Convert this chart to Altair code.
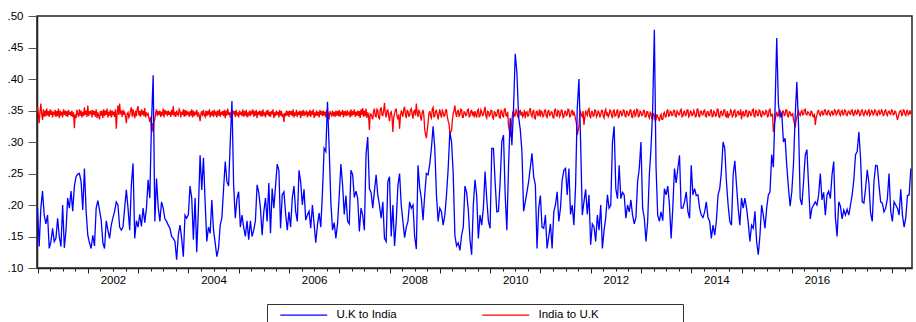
import altair as alt
import numpy as np
import pandas as pd

# ---- data (values in thousandths) ----
START_YEAR = 2001.0
UK_OBS_PER_YEAR = 30      # U.K to India read every 1/30 year
IN_OBS_PER_YEAR = 60      # India to U.K read every 1/60 year

uk_to_india_milli = [
    195,134,195,222,184,170,184,131,142,163,
    142,147,179,150,134,200,132,160,211,195,
    222,190,230,245,249,250,237,192,258,190,
    152,140,131,152,135,195,207,192,176,140,
    131,175,160,147,168,180,190,205,200,165,
    160,165,195,224,195,160,232,266,147,175,
    165,185,166,195,172,195,240,211,330,406,
    174,242,197,174,205,195,178,174,168,163,
    150,147,142,113,152,168,147,118,184,179,
    185,
    230,211,145,211,125,195,279,224,275,205,
    142,165,155,208,160,140,118,131,168,180,
    225,269,237,230,300,365,232,179,210,221,
    165,184,165,150,175,145,175,150,160,175,
    232,220,195,152,189,211,174,235,155,226,
    195,230,265,255,163,216,221,187,160,189,
    165,211,230,190,174,255,237,200,225,176,
    184,190,163,200,170,140,168,187,165,220,
    290,285,364,290,205,160,172,
    147,170,215,265,232,185,215,174,170,255,
    248,212,222,211,158,195,184,160,280,308,
    226,220,195,222,248,216,200,179,205,147,
    142,237,245,150,200,135,174,230,250,200,
    174,148,165,174,205,195,200,150,130,263,
    228,210,176,216,250,248,265,290,325,290,
    216,174,195,189,168,184,216,258,316,300,
    250,152,135,140,128,152,165,230,220,192,
    145,121,200,240,215,
    147,184,168,195,253,210,174,163,290,290,
    237,189,190,237,301,311,216,160,260,338,
    295,353,440,410,340,320,285,190,205,221,
    237,260,282,245,232,131,195,215,165,163,
    184,131,150,170,131,189,200,221,174,195,
    240,255,258,216,258,185,200,168,230,353,
    400,300,184,205,225,185,216,137,170,165,
    142,184,160,200,131,160,180,216,195,200,
    300,325,226,210,263,210,220,
    216,179,200,189,208,184,170,180,237,258,
    300,195,179,142,174,248,290,353,478,260,
    184,174,189,175,226,216,230,200,147,195,
    258,235,258,279,195,195,205,221,190,179,
    263,216,226,215,216,195,184,180,189,205,
    180,174,147,168,152,175,216,226,253,300,
    290,237,200,174,168,248,270,232,195,168,
    211,195,211,195,172,142,168,163,190,142,
    121,152,200,184,163,195,
    216,221,280,260,353,465,360,340,345,300,
    306,262,227,198,221,265,340,395,327,210,
    200,237,279,288,232,178,195,200,205,200,
    216,250,208,220,184,216,222,210,248,269,
    180,150,205,198,178,192,184,193,184,200,
    216,240,280,285,316,275,205,203,226,256,
    235,187,174,237,263,262,232,205,203,189,
    195,210,250,190,174,205,200,195,184,225,
    184,165,180,215,216,258,
]

india_to_uk_milli = [
    356,345,330,348,361,344,335,352,340,350,341,353,342,349,340,352,343,350,339,348,
    344,351,340,349,341,353,338,350,342,348,339,352,343,350,341,349,340,351,343,348,
    341,350,340,347,322,344,338,351,345,340,352,342,350,339,348,341,355,343,350,340,
    358,341,349,344,350,339,351,343,349,340,352,338,347,341,336,349,342,350,338,352,
    341,350,343,353,339,348,342,351,339,350,344,348,340,352,321,346,358,343,361,344,
    350,340,351,343,347,341,330,345,347,339,342,351,355,340,352,344,338,350,341,353,
    357,342,349,340,352,343,350,341,354,339,347,343,345,338,332,340,318,330,315,333,
    336,346,352,341,349,343,350,340,348,342,353,339,351,344,349,341,350,343,348,340,
    351,343,357,341,348,340,350,344,342,352,349,339,348,343,352,340,351,341,350,343,
    348,340,349,342,352,339,350,341,348,343,351,340,347,342,333,345,349,341,351,343,
    340,350,341,349,343,352,339,348,342,350,340,351,344,347,339,350,342,352,340,348,
    343,349,341,351,338,350,342,353,343,347,339,348,341,350,344,349,340,351,342,347,
    339,350,343,348,341,352,340,349,342,351,339,347,343,350,341,348,344,352,340,349,
    342,351,338,348,343,350,341,349,340,352,342,347,339,350,343,351,341,348,340,349,
    344,352,338,347,341,350,343,348,339,351,342,349,340,345,332,346,341,350,342,349,
    340,350,343,349,341,352,339,347,342,351,340,348,343,350,338,349,342,351,341,347,
    344,350,339,348,342,351,340,349,343,352,338,347,341,350,342,348,339,351,343,349,
    341,350,342,348,339,351,343,347,336,349,345,342,350,341,348,340,350,342,349,341,
    351,340,348,343,351,339,349,342,350,341,348,344,347,339,352,341,349,343,352,340,
    348,342,350,341,349,338,352,343,354,340,350,341,353,338,347,342,319,345,344,340,
    336,349,353,341,340,352,350,339,337,351,355,343,342,350,362,345,339,350,351,341,
    333,346,348,340,316,338,345,351,352,341,336,344,321,340,350,346,340,352,356,343,
    338,350,349,341,342,351,353,344,337,349,350,342,361,346,340,350,348,339,334,347,
    351,342,320,312,306,318,330,345,349,341,338,352,355,340,341,349,350,343,336,345,
    352,343,339,350,347,341,342,351,351,340,333,329,314,316,318,335,345,350,358,346,
    340,349,350,341,343,352,351,339,339,348,347,342,343,351,352,340,341,349,350,342,
    348,339,349,343,339,350,352,340,341,351,348,342,343,350,356,341,338,349,348,341,
    343,350,350,339,337,348,347,341,342,351,351,339,338,350,349,341,340,352,353,342,
    341,348,325,318,308,322,335,347,350,341,342,351,348,340,339,349,350,342,348,340,
    343,351,338,347,348,341,342,350,354,343,340,349,350,338,337,348,349,342,343,352,
    340,349,348,340,342,350,351,341,339,349,350,342,343,348,347,339,338,351,352,342,
    341,350,349,340,343,351,350,339,340,348,349,342,343,352,351,340,341,349,350,342,
    347,343,336,330,311,318,325,344,348,342,340,349,327,338,350,345,342,351,353,341,
    339,348,348,341,342,351,350,340,343,349,347,339,343,350,350,341,338,349,352,342,
    347,340,343,351,349,342,338,350,351,341,342,348,352,339,340,349,349,342,343,351,
    350,341,340,349,348,342,343,351,351,340,339,348,350,341,343,352,351,340,341,349,
    347,342,343,350,350,340,340,348,348,341,338,347,345,337,336,346,342,334,335,344,
    340,338,333,341,344,336,336,345,347,340,340,350,351,341,342,349,348,342,343,350,
    350,341,340,349,347,343,343,350,352,340,341,348,349,342,343,351,351,340,342,349,
    348,342,343,350,347,340,341,352,352,341,340,349,349,343,343,350,351,341,340,348,
    348,342,342,350,351,340,341,349,347,341,342,352,352,340,339,348,349,342,343,351,
    351,341,340,349,338,344,343,351,349,340,342,350,351,340,341,348,349,343,344,352,
    336,345,349,341,342,350,350,340,341,349,348,342,343,351,352,341,340,350,349,342,
    342,351,350,341,340,349,348,343,344,350,349,340,341,351,352,341,342,345,316,327,
    334,343,348,341,342,350,350,343,341,349,349,342,343,351,351,341,340,348,347,342,
    342,346,336,330,323,333,340,345,349,344,342,348,350,343,344,351,352,344,343,348,
    347,343,342,349,348,341,340,345,327,338,343,349,350,344,342,348,349,343,344,351,
    351,344,343,349,350,344,342,348,349,343,344,351,350,343,345,350,351,344,342,349,
    350,343,344,351,350,343,342,348,349,345,344,350,351,343,342,349,350,344,345,351,
    349,342,343,350,351,344,342,348,350,345,343,349,351,342,344,350,349,343,345,351,
    350,343,342,349,350,344,345,351,349,342,343,350,351,344,342,348,349,345,344,351,
    350,343,344,349,348,342,335,340,346,349,350,342,343,351,350,344,342,349,350,343,
    345,350,344,
]

series_names = ["U.K to India", "India to U.K"]
series_colors = ["#0000FF", "#FF0000"]
year_labels = [2002, 2004, 2006, 2008, 2010, 2012, 2014, 2016]
y_ticks = [0.10, 0.15, 0.20, 0.25, 0.30, 0.35, 0.40, 0.45, 0.50]
x_domain = [2000.99, 2018.39]


def frame(values, name, per_year):
    yrs = START_YEAR + np.arange(len(values)) / per_year
    return pd.DataFrame({"year": yrs, "value": np.array(values) / 1000.0, "series": name})


df = pd.concat([frame(uk_to_india_milli, series_names[0], UK_OBS_PER_YEAR),
                frame(india_to_uk_milli, series_names[1], IN_OBS_PER_YEAR)],
               ignore_index=True)

quarter_ticks = [2001 + q / 4 for q in range(0, 70)]
label_test = " || ".join(f"datum.value === {y + 0.5}" for y in year_labels)

color = alt.Color(
    "series:N",
    scale=alt.Scale(domain=series_names, range=series_colors),
    legend=alt.Legend(
        title=None, orient="none", direction="horizontal",
        legendX=230, legendY=288,
        symbolType="M-5,0H5", symbolSize=88, symbolStrokeWidth=1.3,
        symbolOffset=26, labelOffset=27, columnPadding=77, padding=5,
        labelFontSize=11.5, labelColor="#000",
    ),
)

x = alt.X(
    "year:Q",
    scale=alt.Scale(domain=x_domain, nice=False, zero=False),
    axis=alt.Axis(
        title=None, values=quarter_ticks, grid=False,
        labelExpr=f"({label_test}) ? '' + floor(datum.value) : ''",
        labelOverlap=False, labelFlush=False,
        tickSize={"condition": {"test": "datum.value % 1 === 0", "value": 5}, "value": 3},
        labelPadding=3, labelFontSize=11.5, labelColor="#000",
        tickColor="#222", domainColor="#222", domainWidth=1.5,
    ),
)
y = alt.Y(
    "value:Q",
    scale=alt.Scale(domain=[0.10, 0.50], nice=False, zero=False),
    axis=alt.Axis(
        title=None, values=y_ticks, grid=False,
        labelExpr="replace(format(datum.value, '.2f'), '0.', '.')",
        tickSize=9, labelPadding=5, labelFontSize=11.5, labelColor="#000",
        tickColor="#555", domainColor="#222", domainWidth=1.5,
    ),
)

base = alt.Chart(df)
red = base.transform_filter(alt.datum.series == series_names[1]).mark_line(strokeWidth=1.3).encode(
    x=x, y=y, color=color)
blue = base.transform_filter(alt.datum.series == series_names[0]).mark_line(strokeWidth=1.3).encode(
    x=x, y=y, color=color)

# frame drawn around the legend
legend_box = alt.Chart(pd.DataFrame({"box": [0]})).mark_rect(
    fill="transparent", stroke="#333", strokeWidth=1
).encode(x=alt.value(230.5), x2=alt.value(646.5), y=alt.value(288.5), y2=alt.value(320))

chart = alt.layer(red, blue, legend_box).properties(
    width=875, height=252,
    autosize=alt.AutoSizeParams(type="none"),
    padding={"left": 37, "top": 16, "right": 4, "bottom": 54},
).configure(font="Liberation Sans").configure_view(
    stroke="#222", strokeWidth=1.5
)

chart.save("out.html", embed_options={"renderer": "svg", "actions": False})
